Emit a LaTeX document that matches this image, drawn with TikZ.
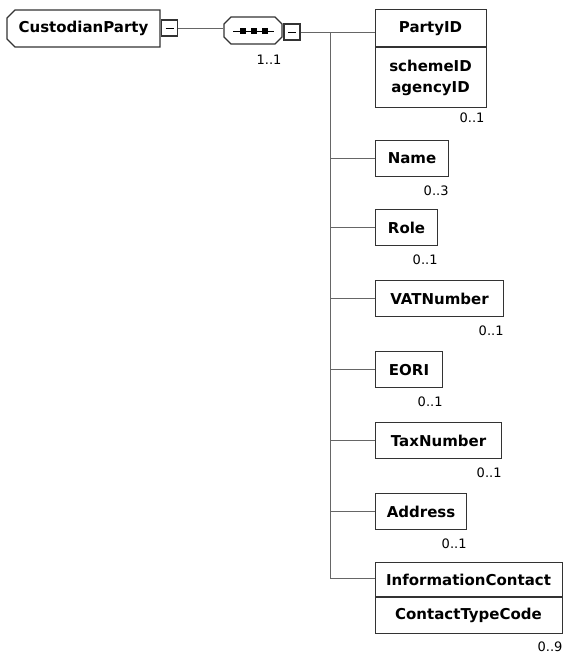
\documentclass[tikz,border=0pt]{standalone}
\usepackage{fontspec}
\setmainfont{DejaVu Sans}
\begin{document}
\begin{tikzpicture}[x=1pt,y=-1pt,
  line width=1.1pt,
  boxline/.style={draw=black!80},
  conn/.style={draw=black!60, line width=1pt},
  elem/.style={boxline, rectangle, inner sep=0pt, minimum height=36pt, anchor=north west, font=\fontsize{15}{18}\selectfont\bfseries},
  ename/.style={inner sep=0pt, font=\fontsize{15}{18}\selectfont\bfseries},
  card/.style={inner sep=0pt, anchor=base east, font=\fontsize{13}{15}\selectfont},
  minusbox/.style={boxline, rectangle, fill=white, inner sep=0pt, minimum width=16pt, minimum height=16pt}
]
\useasboundingbox (0,0) rectangle (568,656);

% CustodianParty
\draw[boxline, fill=white] (15,10) -- (160,10) -- (160,47) -- (15,47) -- (7,39) -- (7,18) -- cycle;
\node[ename] (cp) at (83.5,28.5) {CustodianParty};
\node[minusbox] (m1) at (169.5,28) {};
\draw[line width=0.9pt] ([xshift=-4pt]m1.center) -- ([xshift=4pt]m1.center);

% sequence compositor
\coordinate (seqc) at (253,30.5);
\draw[boxline, fill=white] (231,17) -- (275,17) -- (282,24) -- (282,37) -- (275,44) -- (231,44) -- (224,37) -- (224,24) -- cycle;
\node[inner sep=0pt, minimum width=58pt, minimum height=27pt] (seq) at (seqc) {};
\draw[line width=0.9pt] (233,31) -- (274,31);
\foreach \xx in {243,254,265} \fill (\xx-3,28) rectangle (\xx+3,34);
\node[card] (c11) at (282,64) {1..1};
\node[minusbox] (m2) at (292,32) {};
\draw[line width=0.9pt] ([xshift=-4pt]m2.center) -- ([xshift=4pt]m2.center);

\draw[conn] (m1.east) -- (m1.east -| seq.west);

% spine
\coordinate (sp0) at (330,32);
\coordinate (sp1) at (330,578);
\draw[conn] (m2.east) -- (sp0);
\draw[conn] (sp0) -- (sp1);

% PartyID
\node[boxline, rectangle, inner sep=0pt, minimum width=111pt, minimum height=98pt, anchor=north west] (pid) at (375,9) {};
\draw[boxline] (375,47) -- (486,47);
\node[ename] at (430.5,29) {PartyID};
\node[ename] at (430.5,66) {schemeID};
\node[ename] at (430.5,89) {agencyID};
\node[card] at (485,122) {0..1};
\draw[conn] (pid.west |- sp0) -- (sp0);

% simple elements
\node[elem, minimum width=73pt] (name) at (375,140) {Name};
\node[card] at (name.south east) [yshift=-18pt] {0..3};
\node[elem, minimum width=62pt] (role) at (375,209) {Role};
\node[card] at (role.south east) [yshift=-18pt] {0..1};
\node[elem, minimum width=128pt] (vat) at (375,280) {VATNumber};
\node[card] at (vat.south east) [yshift=-18pt] {0..1};
\node[elem, minimum width=67pt] (eori) at (375,351) {EORI};
\node[card] at (eori.south east) [yshift=-18pt] {0..1};
\node[elem, minimum width=126pt] (tax) at (375,422) {TaxNumber};
\node[card] at (tax.south east) [yshift=-18pt] {0..1};
\node[elem, minimum width=91pt] (addr) at (375,493) {Address};
\node[card] at (addr.south east) [yshift=-18pt] {0..1};

\foreach \n in {name,role,vat,eori,tax,addr}
  \draw[conn] (\n.west -| sp0) -- (\n.west);

% InformationContact
\node[boxline, rectangle, inner sep=0pt, minimum width=187pt, minimum height=71pt, anchor=north west] (ic) at (375,562) {};
\draw[boxline] (375,597) -- (562,597);
\node[ename] at (468.5,580) {InformationContact};
\node[ename] at (468.5,615) {ContactTypeCode};
\node[card] at (563,651) {0..9};
\draw[conn] (sp1) -- (sp1 -| ic.west);
\end{tikzpicture}
\end{document}
